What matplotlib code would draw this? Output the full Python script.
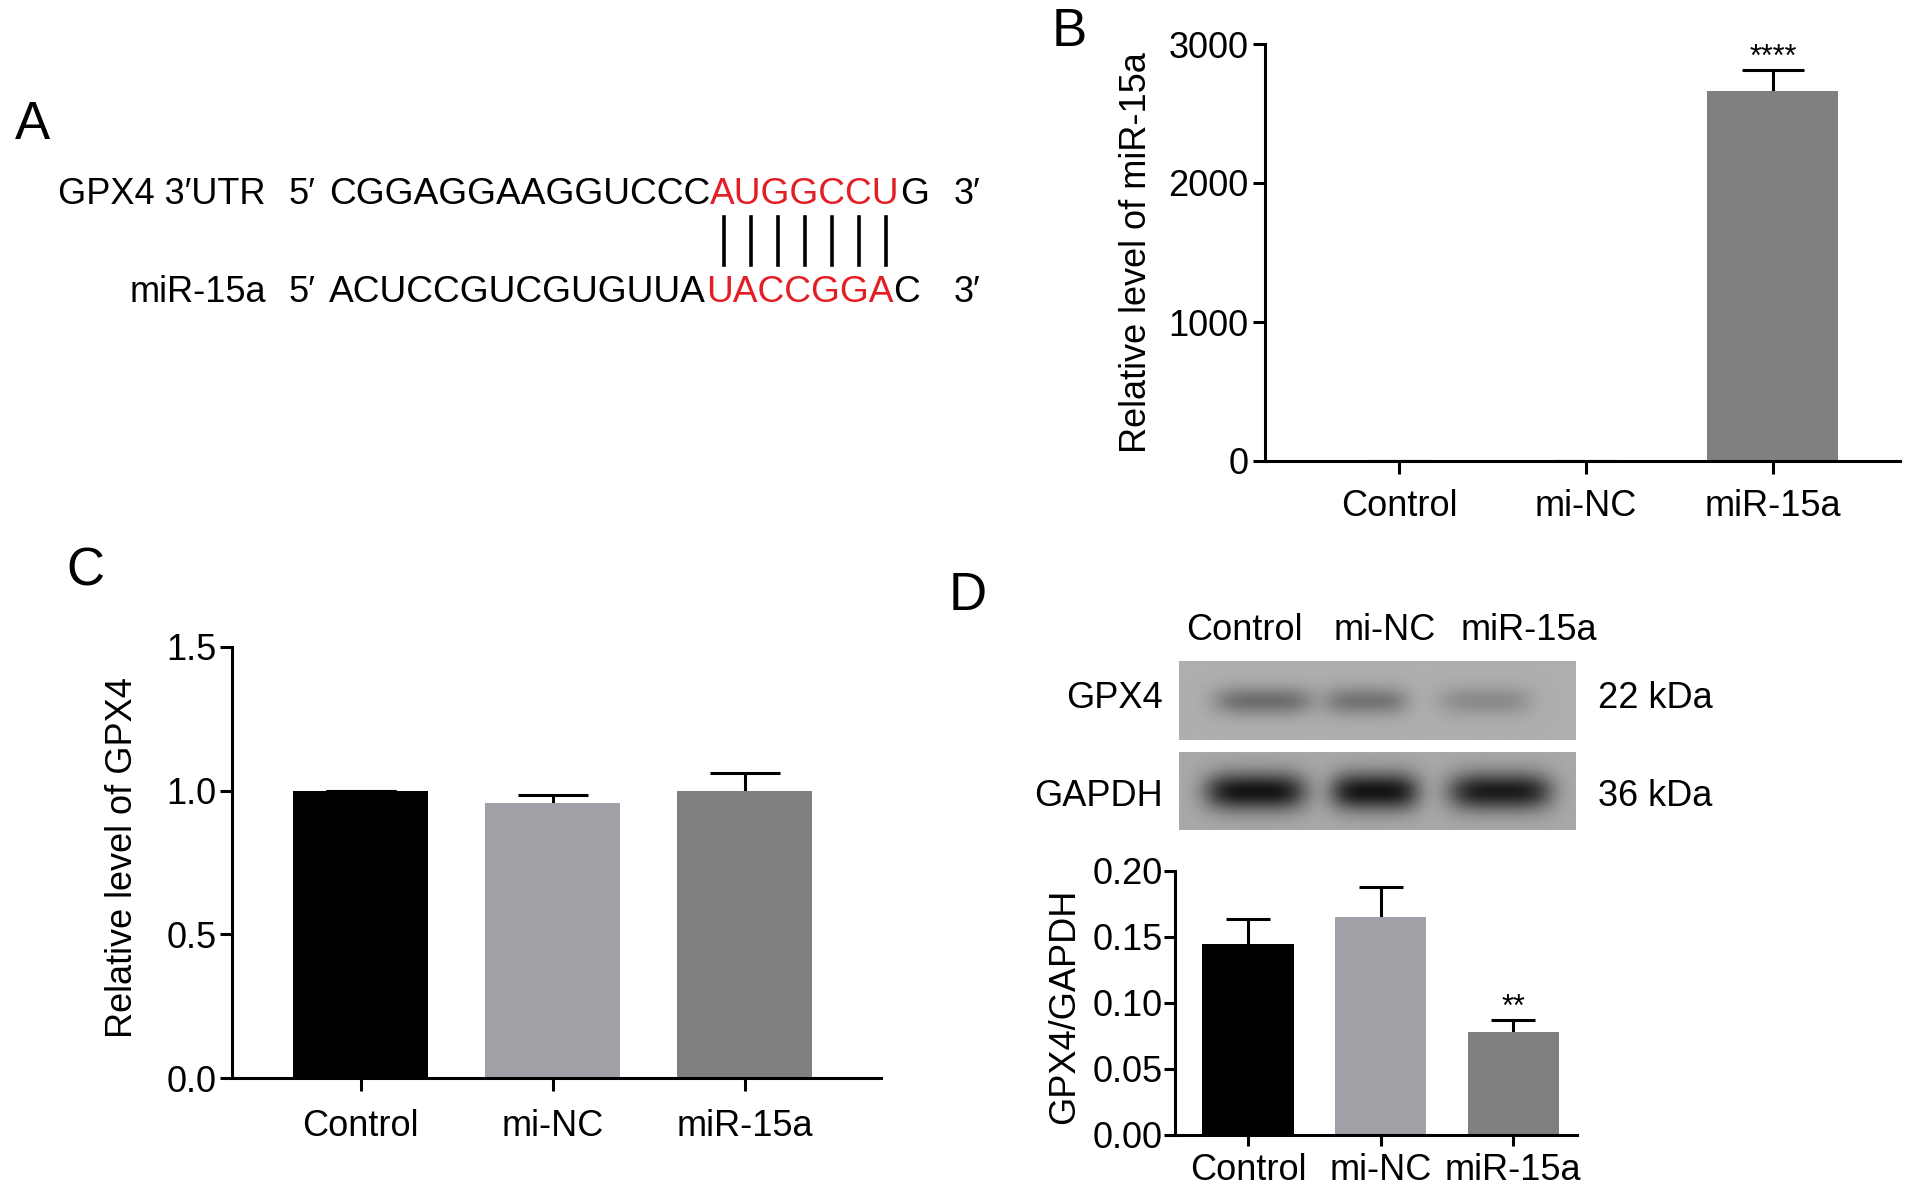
import matplotlib
matplotlib.use('Agg')
import numpy as np
import matplotlib.pyplot as plt
from matplotlib.lines import Line2D

plt.rcParams['font.family'] = ['Liberation Sans', 'DejaVu Sans']

# ---------------- data ----------------
groups = ['Control', 'mi-NC', 'miR-15a']
bar_colors = ['#000000', '#a0a0a6', '#808080']

# B: relative miR-15a level
mir_level = [1.0, 1.1, 2660]
mir_err = [0.0, 0.1, 155]

# C: relative GPX4 mRNA
gpx4_rel = [1.0, 0.956, 1.0]
gpx4_rel_err = [0.0, 0.03, 0.062]

# D: GPX4/GAPDH ratio
gpx4_ratio = [0.145, 0.165, 0.078]
gpx4_ratio_err = [0.019, 0.023, 0.009]

# D: blot band strength (relative)
gpx4_band = [1.0, 0.9, 0.55]
gapdh_band = [1.0, 1.0, 0.95]

# A: sequences (black, red, black)
utr_seq = ['CGGAGGAAGGUCCC', 'AUGGCCU', 'G']
mir_seq = ['ACUCCGUCGUGUUA', 'UACCGGA', 'C']

W, H = 1913, 1196
RED = '#e31e24'
FS = 26


def box(l, t, r, b):
    return [l / W, 1 - b / H, (r - l) / W, (b - t) / H]


def style(ax, xpad, ypad, ticklen=9):
    for s in ['top', 'right']:
        ax.spines[s].set_visible(False)
    for s in ['left', 'bottom']:
        ax.spines[s].set_linewidth(2.2)
    ax.tick_params(axis='both', width=2.2, length=ticklen, labelsize=FS)
    ax.tick_params(axis='x', pad=xpad)
    ax.tick_params(axis='y', pad=ypad)


def bars(ax, vals, errs, width, capsize):
    x = np.arange(len(vals))
    ax.errorbar(x, vals, yerr=errs, fmt='none', ecolor='black', elinewidth=2.2,
                capsize=capsize, capthick=2.2, zorder=1)
    ax.bar(x, vals, width=width, color=bar_colors, zorder=2)
    ax.set_xticks(x)
    ax.set_xticklabels(groups)
    return x


fig = plt.figure(figsize=(W / 100, H / 100), dpi=100)

# ---------------- panel A ----------------
axA = fig.add_axes([0, 0, 1, 1])
axA.axis('off')
axA.set_xlim(0, W)
axA.set_ylim(H, 0)

fig.text(15 / W, 1 - 125 / H, 'A', fontsize=38, ha='left', va='center')

SEQ_FS = 26.7
red_parts = []
for label, seq, yc in [('GPX4 3\u2032UTR', utr_seq, 194), ('miR-15a', mir_seq, 293)]:
    axA.text(266, yc, label, fontsize=FS, ha='right', va='center')
    axA.text(289, yc, '5\u2032', fontsize=FS, ha='left', va='center')
    prev = axA.text(329, yc, seq[0], fontsize=SEQ_FS, ha='left', va='center')
    red = axA.annotate(seq[1], xy=(1, 0), xycoords=prev, fontsize=SEQ_FS,
                       ha='left', va='bottom', color=RED)
    axA.annotate(seq[2], xy=(1, 0), xycoords=red, fontsize=SEQ_FS,
                 ha='left', va='bottom')
    axA.text(954, yc, '3\u2032', fontsize=FS, ha='left', va='center')
    red_parts.append(red)

fig.canvas.draw()
bb = red_parts[0].get_window_extent()
n = len(utr_seq[1])
for i in range(n):
    xc = bb.x0 + (i + 0.5) * bb.width / n
    fig.add_artist(Line2D([xc / W, xc / W], [1 - 265 / H, 1 - 217 / H],
                          color='black', lw=2.6, transform=fig.transFigure))

# ---------------- panel B ----------------
axB = fig.add_axes(box(1265, 44, 1900, 461))
bars(axB, mir_level, mir_err, 0.7, 22)
style(axB, xpad=11, ypad=3)
axB.set_ylim(0, 3000)
axB.set_yticks([0, 1000, 2000, 3000])
axB.set_xlim(-0.717, 2.68)
axB.annotate('****', (2, mir_level[2] + mir_err[2]), xytext=(0, 3),
             textcoords='offset points', ha='center', va='baseline', fontsize=22)
fig.text(1137 / W, 1 - 253 / H, 'Relative level of miR-15a', rotation=90,
         fontsize=FS, ha='center', va='center')
fig.text(1069 / W, 1 - 32 / H, 'B', fontsize=38, ha='center', va='center')

# ---------------- panel C ----------------
axC = fig.add_axes(box(232, 647, 881, 1078))
bars(axC, gpx4_rel, gpx4_rel_err, 0.7, 25.5)
style(axC, xpad=13, ypad=2)
axC.set_ylim(0, 1.5)
axC.set_yticks([0, 0.5, 1.0, 1.5])
axC.set_yticklabels(['0.0', '0.5', '1.0', '1.5'])
axC.set_xlim(-0.67, 2.71)
fig.text(122 / W, 1 - 858 / H, 'Relative level of GPX4', rotation=90,
         fontsize=FS, ha='center', va='center')
fig.text(85 / W, 1 - 572 / H, 'C', fontsize=38, ha='center', va='center')

# ---------------- panel D ----------------
fig.text(968 / W, 1 - 596 / H, 'D', fontsize=38, ha='center', va='center')

bw, bh = 396, 79
yy, xx = np.mgrid[0:bh, 0:bw]
for strengths, top, bot, bg, dark, centers, widths, hh, name, kda, ly in [
        (gpx4_band, 661, 740, 0.68, 0.25, [84, 186, 305], [98, 83, 92], 14, 'GPX4', '22 kDa', 698),
        (gapdh_band, 752, 830, 0.66, 0.58, [76, 195, 320], [101, 88, 103], 19, 'GAPDH', '36 kDa', 797)]:
    img = np.full((bh, bw), bg)
    for s, c, w in zip(strengths, centers, widths):
        prof = np.exp(-np.abs((xx - c) / (w / 2)) ** 4) * np.exp(-((yy - 40) / hh) ** 2)
        img = img - dark * s * prof
    axI = fig.add_axes(box(1179, top, 1575, bot))
    axI.imshow(img, cmap='gray', vmin=0, vmax=1, aspect='auto', interpolation='bilinear')
    axI.axis('off')
    fig.text(1163 / W, 1 - ly / H, name, fontsize=FS, ha='right', va='center')
    fig.text(1598 / W, 1 - ly / H, kda, fontsize=FS, ha='left', va='center')

for g, xc in zip(groups, [1244, 1385, 1529]):
    fig.text(xc / W, 1 - 630 / H, g, fontsize=FS, ha='center', va='center')

axD = fig.add_axes(box(1175, 871, 1577, 1135))
bars(axD, gpx4_ratio, gpx4_ratio_err, 0.69, 16)
style(axD, xpad=5, ypad=1, ticklen=8)
axD.set_ylim(0, 0.2)
axD.set_yticks([0, 0.05, 0.10, 0.15, 0.20])
axD.set_yticklabels(['0.00', '0.05', '0.10', '0.15', '0.20'])
axD.set_xlim(-0.55, 2.48)
axD.annotate('**', (2, gpx4_ratio[2] + gpx4_ratio_err[2]), xytext=(0, 3),
             textcoords='offset points', ha='center', va='baseline', fontsize=22)
fig.text(1065 / W, 1 - 1006 / H, 'GPX4/GAPDH', rotation=90,
         fontsize=FS, ha='center', va='center')

fig.savefig('out.png', dpi=100)
